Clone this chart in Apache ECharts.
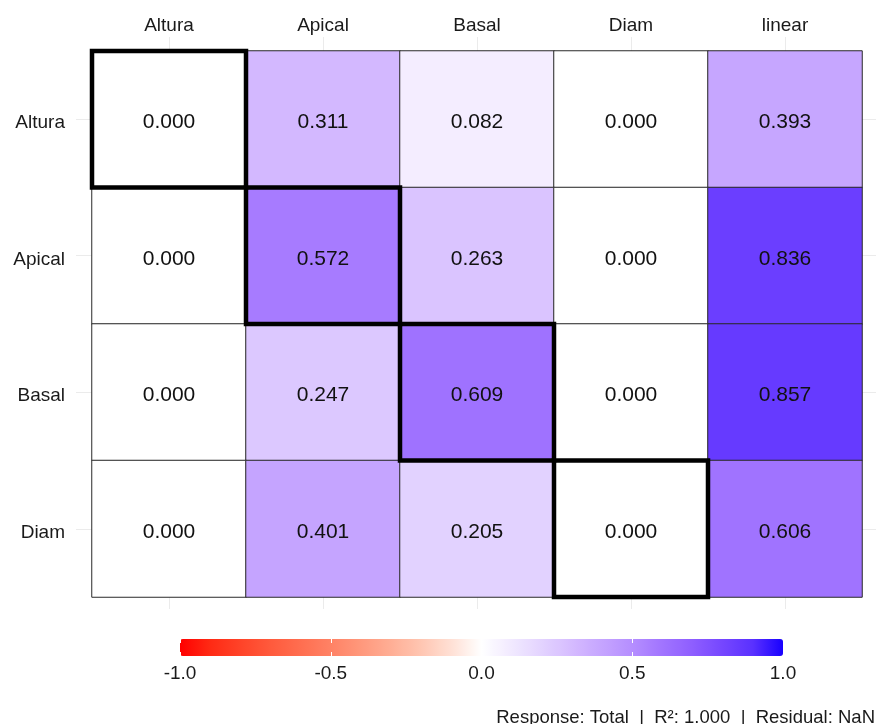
<!DOCTYPE html>
<html>
<head>
<meta charset="utf-8">
<script src="https://cdn.jsdelivr.net/npm/echarts@6/dist/echarts.min.js"></script>
<style>html,body{margin:0;padding:0;background:#fff;}#chart{width:876px;height:724px;}</style>
</head>
<body>
<div id="chart"></div>
<script>
// ---- data ----
const colNames = ['Altura', 'Apical', 'Basal', 'Diam', 'linear'];
const rowNames = ['Altura', 'Apical', 'Basal', 'Diam'];
const rowAltura = [0.000, 0.311, 0.082, 0.000, 0.393];
const rowApical = [0.000, 0.572, 0.263, 0.000, 0.836];
const rowBasal  = [0.000, 0.247, 0.609, 0.000, 0.857];
const rowDiam   = [0.000, 0.401, 0.205, 0.000, 0.606];
const highlightCells = [['Altura', 'Altura'], ['Apical', 'Apical'], ['Basal', 'Basal'], ['Diam', 'Diam']];
const scaleTicks = [-1.0, -0.5, 0.0, 0.5, 1.0];
const footerText = 'Response: Total  |  R\u00B2: 1.000  |  Residual: NaN';

const rows = [rowAltura, rowApical, rowBasal, rowDiam];
const heatData = [];
rows.forEach((vals, r) => vals.forEach((v, c) => heatData.push([c, r, v])));
const hlData = highlightCells.map(([col, row]) => [colNames.indexOf(col), rowNames.indexOf(row)]);

const FONT = '"Liberation Sans", Arial, sans-serif';
const chart = echarts.init(document.getElementById('chart'));

const option = {
  backgroundColor: '#ffffff',
  animation: false,
  grid: [
    { left: 92, right: 14, top: 51, bottom: 127 },          // 0 tiles
    { left: 169, right: 91, top: 37, bottom: 115 },          // 1 faint vertical lines
    { left: 76, right: 0, top: 119, bottom: 195 },           // 2 faint horizontal lines
    { left: 180, right: 93, top: 639, height: 17 }           // 3 colour bar axis
  ],
  xAxis: [
    { gridIndex: 0, type: 'category', data: colNames, position: 'top',
      axisLine: { show: false }, axisTick: { show: false }, splitLine: { show: false },
      axisLabel: { color: '#1a1a1a', fontSize: 19, fontFamily: FONT, margin: 16 } },
    { gridIndex: 1, type: 'category', data: colNames, boundaryGap: false, z: 0,
      axisLine: { show: false }, axisTick: { show: false }, axisLabel: { show: false },
      splitLine: { show: true, lineStyle: { color: '#ebebeb', width: 1 } } },
    { gridIndex: 2, type: 'value', show: false },
    { gridIndex: 3, type: 'value', min: scaleTicks[0], max: scaleTicks[scaleTicks.length - 1], interval: 0.5,
      position: 'bottom', z: 10,
      axisLine: { show: false },
      axisTick: { show: true, inside: true, length: 4, lineStyle: { color: '#ffffff', width: 1 } },
      axisLabel: { color: '#1a1a1a', fontSize: 19, fontFamily: FONT, margin: 8,
                   formatter: v => v.toFixed(1) },
      splitLine: { show: false } },
    { gridIndex: 3, type: 'value', min: scaleTicks[0], max: scaleTicks[scaleTicks.length - 1], interval: 0.5,
      position: 'top', z: 10,
      axisLine: { show: false },
      axisTick: { show: true, inside: true, length: 4, lineStyle: { color: '#ffffff', width: 1 } },
      axisLabel: { show: false }, splitLine: { show: false } }
  ],
  yAxis: [
    { gridIndex: 0, type: 'category', data: rowNames, inverse: true,
      axisLine: { show: false }, axisTick: { show: false }, splitLine: { show: false },
      axisLabel: { margin: 27, formatter: v => '{a|' + v + '}',
        rich: { a: { color: '#1a1a1a', fontSize: 19, fontFamily: FONT, padding: [8, 0, 0, 0] } } } },
    { gridIndex: 1, type: 'value', show: false },
    { gridIndex: 2, type: 'category', data: rowNames, inverse: true, boundaryGap: false,
      axisLine: { show: false }, axisTick: { show: false }, axisLabel: { show: false },
      splitLine: { show: true, lineStyle: { color: '#ebebeb', width: 1 } } },
    { gridIndex: 3, type: 'value', show: false }
  ],
  visualMap: [{
    type: 'continuous', seriesIndex: 0, min: -1, max: 1,
    orient: 'horizontal', left: 180, top: 639, padding: 0,
    itemWidth: 17, itemHeight: 603,
    calculable: false, hoverLink: false, showLabel: false, text: null,
    inRange: { color: [
      '#FF0000', '#FF2A14', '#FF4328', '#FF5A3C', '#FF6E50', '#FF8265',
      '#FF987C', '#FFAE95', '#FFC6B2', '#FFE0D5', '#FFFFFF',
      '#F1E9FF', '#E3D3FF', '#D5BBFF', '#C5A4FF', '#B58EFF',
      '#A174FF', '#8E5EFF', '#7546FF', '#5A31FF', '#1800FF'
    ] }
  }],
  series: [
    { type: 'heatmap', xAxisIndex: 0, yAxisIndex: 0, data: heatData, z: 2,
      itemStyle: { borderColor: '#2a2a2a', borderWidth: 1 },
      emphasis: { disabled: true },
      label: { show: true, color: '#111', fontSize: 21, fontFamily: FONT, offset: [0, 3],
               formatter: p => p.value[2].toFixed(3) } },
    { type: 'custom', xAxisIndex: 0, yAxisIndex: 0, data: hlData, z: 5, silent: true,
      renderItem: (params, api) => {
        const c = api.coord([api.value(0), api.value(1)]);
        const s = api.size([1, 1]);
        return { type: 'rect',
          shape: { x: c[0] - s[0] / 2, y: c[1] - s[1] / 2, width: s[0], height: s[1] },
          style: { fill: 'none', stroke: '#000000', lineWidth: 4.5 } };
      } }
  ],
  graphic: [{
    type: 'text', right: 1, top: 708,
    style: { text: footerText, fill: '#1a1a1a', font: '18.5px ' + FONT }
  }]
};
chart.setOption(option);
</script>
</body>
</html>
